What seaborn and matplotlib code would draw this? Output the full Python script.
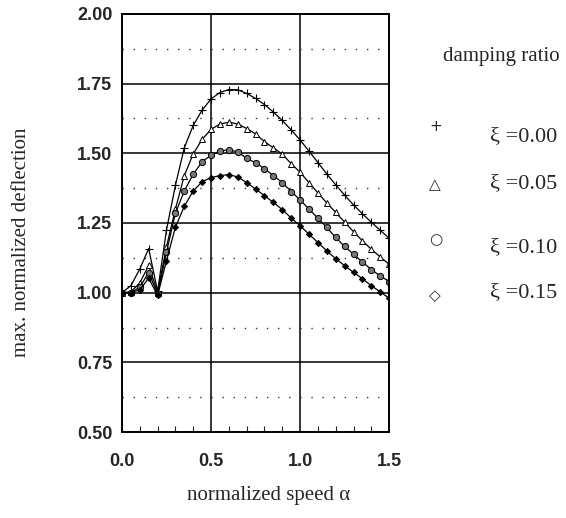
import numpy as np
import pandas as pd
import seaborn as sns
import matplotlib.pyplot as plt
from matplotlib.ticker import MultipleLocator, FixedLocator

# normalized speed alpha, step 0.05
alpha = [0.00, 0.05, 0.10, 0.15, 0.20, 0.25, 0.30, 0.35, 0.40, 0.45,
         0.50, 0.55, 0.60, 0.65, 0.70, 0.75, 0.80, 0.85, 0.90, 0.95,
         1.00, 1.05, 1.10, 1.15, 1.20, 1.25, 1.30, 1.35, 1.40, 1.45, 1.50]

# max. normalized deflection for each damping ratio
defl_000 = [1.000, 1.025, 1.085, 1.158, 1.005, 1.225, 1.385, 1.520, 1.600, 1.655,
            1.695, 1.718, 1.729, 1.728, 1.715, 1.697, 1.675, 1.648, 1.618, 1.584,
            1.548, 1.508, 1.467, 1.426, 1.387, 1.350, 1.315, 1.283, 1.253, 1.224, 1.195]
defl_005 = [1.000, 1.003, 1.035, 1.098, 1.000, 1.165, 1.300, 1.420, 1.498, 1.550,
            1.586, 1.605, 1.612, 1.605, 1.589, 1.570, 1.542, 1.520, 1.497, 1.463,
            1.432, 1.395, 1.358, 1.322, 1.288, 1.253, 1.219, 1.186, 1.156, 1.128, 1.102]
defl_010 = [1.000, 1.000, 1.020, 1.072, 0.995, 1.145, 1.285, 1.365, 1.425, 1.470,
            1.493, 1.508, 1.513, 1.505, 1.482, 1.466, 1.445, 1.420, 1.395, 1.363,
            1.333, 1.300, 1.267, 1.234, 1.198, 1.166, 1.138, 1.110, 1.083, 1.060, 1.040]
defl_015 = [1.000, 1.000, 1.010, 1.052, 0.990, 1.115, 1.235, 1.310, 1.365, 1.398,
            1.413, 1.420, 1.424, 1.415, 1.395, 1.372, 1.348, 1.324, 1.298, 1.268,
            1.240, 1.210, 1.180, 1.150, 1.122, 1.097, 1.073, 1.050, 1.025, 1.003, 0.980]

damping = ['0.00', '0.05', '0.10', '0.15']
series = [defl_000, defl_005, defl_010, defl_015]

df = pd.DataFrame({
    'alpha': np.tile(alpha, len(damping)),
    'defl': np.concatenate(series),
    'xi': np.repeat(damping, len(alpha)),
})

sns.set_style('white')
plt.rcParams['font.family'] = ['Liberation Serif', 'DejaVu Serif']

fig = plt.figure(figsize=(5.66, 5.18), dpi=100)
ax = fig.add_axes([0.2155, 0.166, 0.472, 0.807])

marker_kw = {
    '0.00': dict(marker='+', ms=5.5, mew=0.8, mec='k'),
    '0.05': dict(marker='^', ms=4.5, mew=0.7, mec='k', mfc='white'),
    '0.10': dict(marker='o', ms=4.5, mew=0.7, mec='k', mfc='#777777'),
    '0.15': dict(marker='D', ms=3.2, mew=0.6, mec='k', mfc='k'),
}
for xi in damping:
    sns.lineplot(data=df[df['xi'] == xi], x='alpha', y='defl', ax=ax,
                 color='k', lw=0.9, legend=False, **marker_kw[xi])

ax.set_xlim(0, 1.5)
ax.set_ylim(0.5, 2.0)
ax.xaxis.set_major_locator(MultipleLocator(0.5))
ax.xaxis.set_minor_locator(MultipleLocator(0.1))
ax.yaxis.set_major_locator(MultipleLocator(0.25))
ax.yaxis.set_minor_locator(FixedLocator(np.arange(0.625, 2.0, 0.25)))

ax.grid(True, which='major', color='k', lw=1.1)
ax.grid(True, which='minor', axis='y', color='#333333', lw=1.0, ls=(0, (1, 7)))
ax.set_axisbelow(True)
for sp in ax.spines.values():
    sp.set_color('k')
    sp.set_linewidth(1.4)

ax.tick_params(axis='x', which='major', length=0, pad=15)
ax.tick_params(axis='x', which='minor', direction='in', length=4, width=0.8, bottom=True)
ax.tick_params(axis='y', which='both', length=0, pad=7)
ax.set_xticks([0.0, 0.5, 1.0, 1.5])
ax.set_xticklabels(['0.0', '0.5', '1.0', '1.5'])
ax.set_yticks([0.5, 0.75, 1.0, 1.25, 1.5, 1.75, 2.0])
ax.set_yticklabels(['0.50', '0.75', '1.00', '1.25', '1.50', '1.75', '2.00'])
for lab in ax.get_xticklabels() + ax.get_yticklabels():
    lab.set_fontfamily('Liberation Sans')
    lab.set_fontweight('bold')
    lab.set_fontsize(13)

ax.set_xlabel('normalized speed α', fontsize=15)
ax.set_ylabel('max. normalized deflection', fontsize=15)
ax.xaxis.set_label_coords(0.547, -0.13)
ax.yaxis.set_label_coords(-0.34, 0.455)

# legend drawn as text at the right of the plot
fig.text(0.783, 0.890, 'damping ratio', fontsize=15, ha='left', va='center')
glyphs = ['+', '△', '○', '◇']
glyph_y = [0.755, 0.643, 0.537, 0.430]
label_y = [0.736, 0.645, 0.523, 0.436]
for g, gy, ly, xi in zip(glyphs, glyph_y, label_y, damping):
    fig.text(0.769, gy, g, fontsize=11, ha='center', va='center',
             family=['DejaVu Sans'])
    fig.text(0.866, ly, 'ξ =' + xi, fontsize=16, ha='left', va='center')

fig.savefig('out.png', dpi=100)
